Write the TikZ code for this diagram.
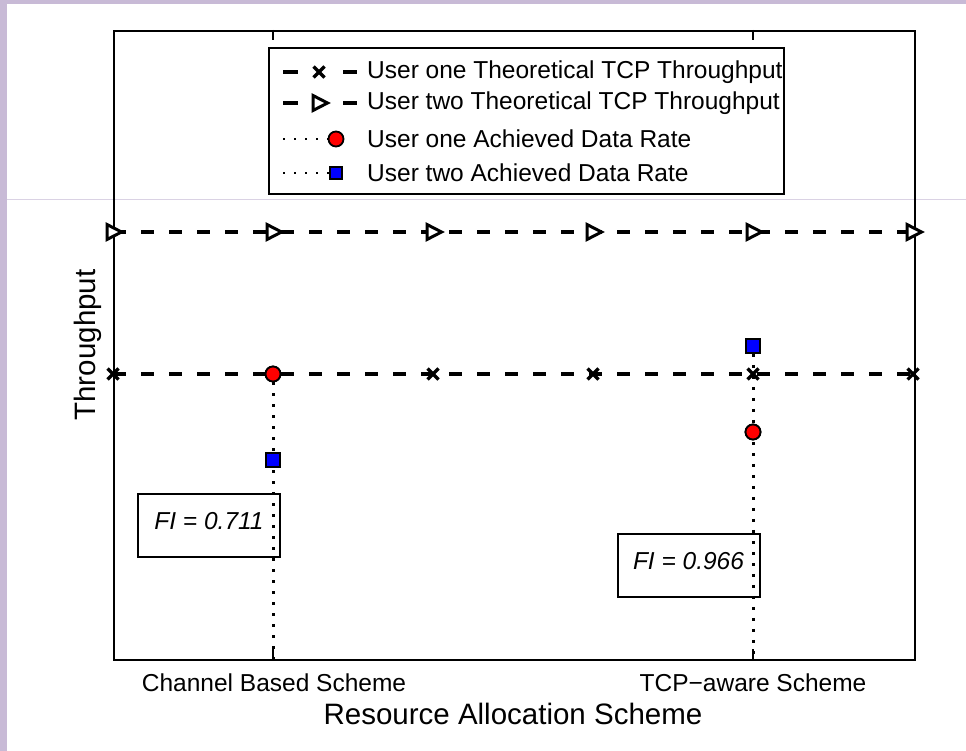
\documentclass[tikz,border=0pt]{standalone}
\usepackage{fontspec}
\setmainfont{Liberation Sans}
\definecolor{slide}{RGB}{200,186,214}
\definecolor{slideline}{RGB}{218,210,228}
\definecolor{mred}{RGB}{255,0,0}
\definecolor{mblue}{RGB}{0,0,255}
\tikzset{
  axisline/.style={line width=2.2pt, black},
  dashline/.style={line width=4.4pt, dash pattern=on 13pt off 15pt, black},
  dotline/.style={line width=3pt, dash pattern=on 3pt off 8pt, black},
  redmark/.style={circle, fill=mred, draw=black, line width=1.8pt, minimum size=15pt, inner sep=0pt},
  bluemark/.style={rectangle, fill=mblue, draw=black, line width=1.8pt, minimum size=14pt, inner sep=0pt},
  fibox/.style={draw=black, line width=2pt, minimum width=142pt, minimum height=63pt, inner sep=0pt,
    font=\fontsize{24.5}{29}\selectfont\itshape},
  ticklabel/.style={font=\fontsize{24.5}{29}\selectfont, inner sep=0pt},
  axlabel/.style={font=\fontsize{29.5}{35}\selectfont, inner sep=0pt},
  legtext/.style={font=\fontsize{24.5}{29}\selectfont, anchor=west, inner sep=0pt},
  tri/.pic={\draw[line width=3pt, fill=white, line join=miter] (-6,-7.5) -- (8.5,0) -- (-6,7.5) -- cycle;},
  xmark/.pic={\draw[line width=3.2pt] (-5.5,-5.5) -- (5.5,5.5) (-5.5,5.5) -- (5.5,-5.5);}
}
\begin{document}
\begin{tikzpicture}[x=1pt,y=-1pt]
\useasboundingbox (0,0) rectangle (966,751);
% slide background
\fill[slide] (0,0) rectangle (7,751);
\fill[slide] (0,0) rectangle (966,4);
\draw[slideline, line width=1pt] (7,200) -- (966,200);

% axes
\node[draw, axisline, minimum width=801pt, minimum height=629pt, inner sep=0pt, anchor=north west] (axes) at (113,30) {};
\coordinate (tk1top) at (273,30);
\coordinate (tk2top) at (753,30);
\coordinate (tk1bot) at (273,659);
\coordinate (tk2bot) at (753,659);
\draw[axisline] (tk1top) -- ++(0,10);
\draw[axisline] (tk2top) -- ++(0,10);
\draw[axisline] (tk1bot) -- ++(0,-10);
\draw[axisline] (tk2bot) -- ++(0,-10);

% data coordinates
\foreach \i/\xx in {1/113,2/273,3/433,4/593,5/753,6/913}{
  \coordinate (t\i) at (\xx,232);
  \coordinate (c\i) at (\xx,374);
}

% achieved data rate markers
\node[redmark] (r1) at (273,374) {};
\node[bluemark] (b1) at (273,460) {};
\node[bluemark] (b2) at (753,346) {};
\node[redmark] (r2) at (753,432) {};

% dotted stems
\draw[dotline] (r1) -- (tk1bot);
\draw[dotline] (b2) -- (tk2bot);

% dashed theoretical lines
\draw[dashline] (t1) -- (t6);
\draw[dashline] (c1) -- (c6);
\foreach \i in {1,...,6}{
  \pic at (t\i) {tri};
  \pic at (c\i) {xmark};
}
\node[redmark] at (r1) {};
\node[bluemark] at (b1) {};
\node[bluemark] at (b2) {};
\node[redmark] at (r2) {};

% FI boxes
\node[fibox] (fi1) at (209,525) {\raisebox{8pt}{FI = 0.711}};
\node[fibox] (fi2) at (688.5,565.5) {\raisebox{9pt}{FI = 0.966}};

% legend
\node[draw, line width=2.2pt, fill=white, minimum width=515pt, minimum height=146pt, inner sep=0pt, anchor=north west] (leg) at (268,47) {};
\coordinate (l1a) at (283,72); \coordinate (l1b) at (298,72);
\coordinate (l1c) at (343,72); \coordinate (l1d) at (357,72);
\draw[line width=4.4pt] (l1a) -- (l1b) (l1c) -- (l1d);
\pic at (319,72) {xmark};
\node[legtext] (lt1) at (367,72) {User one Theoretical TCP Throughput};
\coordinate (l2a) at (283,103); \coordinate (l2b) at (298,103);
\coordinate (l2c) at (343,103); \coordinate (l2d) at (357,103);
\draw[line width=4.4pt] (l2a) -- (l2b) (l2c) -- (l2d);
\pic at (319,103) {tri};
\node[legtext] (lt2) at (367,103) {User two Theoretical TCP Throughput};
\coordinate (l3a) at (283,139); \coordinate (l3b) at (330,139);
\draw[dotline, line width=2.4pt, dash pattern=on 2.4pt off 8.6pt] (l3a) -- (l3b);
\node[redmark] (l3m) at (336,139) {};
\node[legtext] (lt3) at (367,139) {User one Achieved Data Rate};
\coordinate (l4a) at (283,173); \coordinate (l4b) at (330,173);
\draw[dotline, line width=2.4pt, dash pattern=on 2.4pt off 8.6pt] (l4a) -- (l4b);
\node[bluemark, minimum size=12pt] (l4m) at (336,173) {};
\node[legtext] (lt4) at (367,173) {User two Achieved Data Rate};

% labels
\node[ticklabel] (xt1) at (274,683) {Channel Based Scheme};
\node[ticklabel] (xt2) at (753,683) {TCP−aware Scheme};
\node[axlabel] (xl) at (513,714) {Resource Allocation Scheme};
\node[axlabel, rotate=90] (yl) at (88,345) {Throughput};
\end{tikzpicture}
\end{document}
